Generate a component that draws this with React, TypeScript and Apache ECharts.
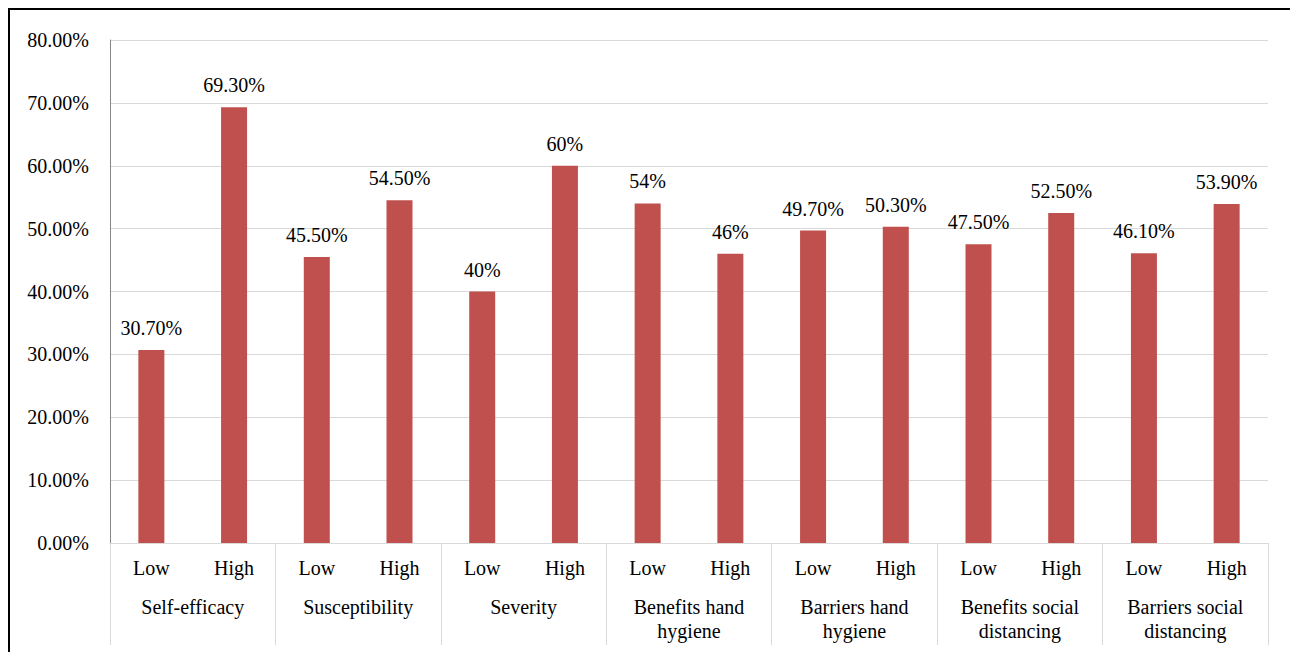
import React, { useEffect, useRef } from "react";
import * as echarts from "echarts";

const levels = ["Low", "High", "Low", "High", "Low", "High", "Low", "High", "Low", "High", "Low", "High", "Low", "High"];
const groups = [
  "Self-efficacy",
  "Susceptibility",
  "Severity",
  "Benefits hand\nhygiene",
  "Barriers hand\nhygiene",
  "Benefits social\ndistancing",
  "Barriers social\ndistancing",
];
const values = [0.307, 0.693, 0.455, 0.545, 0.4, 0.6, 0.54, 0.46, 0.497, 0.503, 0.475, 0.525, 0.461, 0.539];
const valueLabels = ["30.70%", "69.30%", "45.50%", "54.50%", "40%", "60%", "54%", "46%", "49.70%", "50.30%", "47.50%", "52.50%", "46.10%", "53.90%"];

const FONT = "Liberation Serif";

export default function App() {
  const ref = useRef<HTMLDivElement>(null);
  useEffect(() => {
    if (!ref.current) return;
    const chart = echarts.init(ref.current, undefined, { renderer: "svg" });
    chart.setOption({
      animation: false,
      textStyle: { fontFamily: FONT },
      grid: { left: 100, right: 27, top: 30, bottom: 109, containLabel: false },
      xAxis: [
        {
          type: "category",
          data: levels,
          position: "bottom",
          axisLine: { show: true, lineStyle: { color: "#d9d9d9", width: 1 } },
          axisTick: { show: false },
          axisLabel: { interval: 0, margin: 15, fontFamily: FONT, fontSize: 20, color: "#000" },
        },
        {
          type: "category",
          data: groups,
          position: "bottom",
          axisLine: { show: false },
          axisTick: { show: true, length: 102, interval: 0, lineStyle: { color: "#d9d9d9", width: 1 } },
          axisLabel: { interval: 0, margin: 52, fontFamily: FONT, fontSize: 20, lineHeight: 24, color: "#000" },
        },
      ],
      yAxis: {
        type: "value",
        min: 0,
        max: 0.8,
        interval: 0.1,
        axisLine: { show: true, lineStyle: { color: "#868686", width: 1 } },
        axisTick: { show: false },
        splitLine: { show: true, lineStyle: { color: "#d9d9d9", width: 1 } },
        axisLabel: {
          margin: 21,
          fontFamily: FONT,
          fontSize: 20,
          color: "#000",
          formatter: (v: number) => (v * 100).toFixed(2) + "%",
        },
      },
      series: [
        {
          type: "bar",
          xAxisIndex: 0,
          data: values,
          barWidth: 26,
          itemStyle: { color: "#C0504D" },
          label: {
            show: true,
            position: "top",
            distance: 12,
            fontFamily: FONT,
            fontSize: 20,
            color: "#000",
            formatter: (p: any) => valueLabels[p.dataIndex],
          },
        },
      ],
    });
    return () => chart.dispose();
  }, []);
  return (
    <div
      style={{
        width: 1285,
        height: 642,
        borderTop: "2px solid #000",
        borderLeft: "2px solid #000",
        borderRight: "2px solid #000",
        background: "#fff",
      }}
    >
      <div ref={ref} style={{ width: 1285, height: 642 }} />
    </div>
  );
}
